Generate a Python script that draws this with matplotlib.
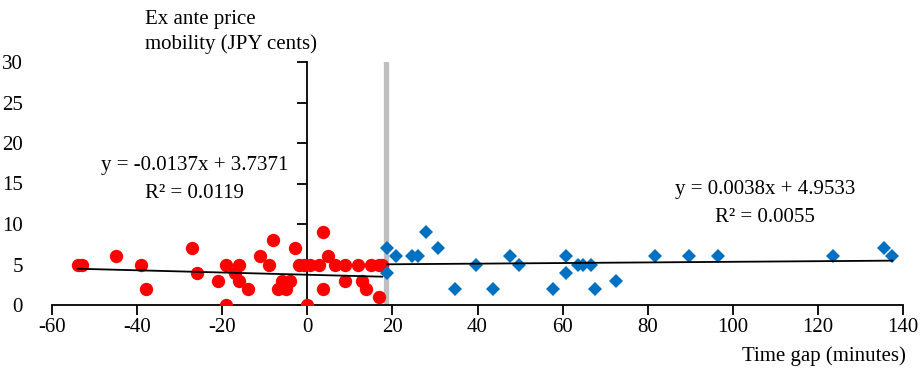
import numpy as np
import matplotlib
matplotlib.use("Agg")
import matplotlib.pyplot as plt

# Pontos antes do intervalo (vermelho)
x_antes = [-54, -53, -45, -39, -38, -27, -26, -21, -19, -19, -17, -16, -16, -14,
           -11, -9, -8, -7, -6, -5, -4, -3, -2, -0.7, 0, 0.6, 2.8, 3.8, 3.8,
           4.8, 6.6, 8.8, 8.8, 11.8, 12.8, 13.9, 14.9, 16.9, 16.9, 17.6]
y_antes = [5, 5, 6, 5, 2, 7, 4, 3, 5, 0, 4, 5, 3, 2,
           6, 5, 8, 2, 3, 2, 3, 7, 5, 5, 0, 5, 5, 9, 2,
           6, 5, 5, 3, 5, 3, 2, 5, 5, 1, 5]

# Pontos depois do intervalo (azul)
x_depois = [18.8, 18.8, 20.9, 24.7, 26, 27.8, 30.8, 34.8, 39.7, 43.7, 47.7, 49.8,
            57.7, 60.8, 60.8, 63.6, 64.8, 66.7, 67.7, 72.6, 81.7, 89.7, 96.6,
            123.6, 135.5, 137.5]
y_depois = [7, 4, 6, 6, 6, 9, 7, 2, 5, 2, 6, 5,
            2, 6, 4, 5, 5, 5, 2, 3, 6, 6, 6,
            6, 7, 6]

# Linhas de tendencia (coeficientes do Excel)
coef_antes = (-0.0137, 3.7371)
r2_antes = 0.0119
coef_depois = (0.0038, 4.9533)
r2_depois = 0.0055

corte = 18.5
x_ticks = list(range(-60, 141, 20))
y_ticks = list(range(0, 31, 5))

plt.rcParams['font.family'] = ['Liberation Serif', 'DejaVu Serif']
plt.rcParams['font.size'] = 15

fig = plt.figure(figsize=(9.23, 3.69), dpi=100)
ax = fig.add_axes([52 / 923, 64 / 369, 851 / 923, 243 / 369])
ax.set_xlim(-60, 140)
ax.set_ylim(0, 30)

# linha cinza do corte
ax.plot([corte, corte], [0, 30], color='#BFBFBF', lw=3.8, zorder=1)

ax.plot(x_antes, y_antes, 'o', color='#FF0000', ms=9.6, mew=0, zorder=3)
ax.plot(x_depois, y_depois, 'D', color='#0070C0', ms=7, mew=0, zorder=3)

xa = np.array([min(x_antes), max(x_antes)])
ax.plot(xa, coef_antes[0] * xa + coef_antes[1], color='black', lw=1.3, zorder=4)
xd = np.array([min(x_depois), max(x_depois)])
ax.plot(xd, coef_depois[0] * xd + coef_depois[1], color='black', lw=1.3, zorder=4)

# eixos
for s in ['top', 'right', 'left']:
    ax.spines[s].set_visible(False)
ax.spines['bottom'].set_linewidth(1.3)
ax.set_xticks(x_ticks)
ax.set_xticklabels([str(v) for v in x_ticks])
ax.tick_params(axis='x', length=7, width=1.3, pad=2)
ax.set_yticks(y_ticks)
ax.tick_params(axis='y', length=0, pad=21)

eixo_y = ax.secondary_yaxis(0.3)
eixo_y.spines['left'].set_linewidth(1.3)
eixo_y.set_yticks(y_ticks)
eixo_y.tick_params(length=7, width=1.3, labelleft=False)

ax.text(-26.5, 17.2, f"y = {coef_antes[0]}x + {coef_antes[1]}", ha='center', va='center')
ax.text(-26.5, 13.8, f"R² = {r2_antes}", ha='center', va='center')
ax.text(107.5, 14.2, f"y = {coef_depois[0]}x + {coef_depois[1]}", ha='center', va='center')
ax.text(107.5, 10.8, f"R² = {r2_depois}", ha='center', va='center')

fig.text(145 / 923, 1 - 10 / 369, "Ex ante price\nmobility (JPY cents)", ha='left', va='top',
         linespacing=1.35)
fig.text(906 / 923, 1 - 356 / 369, "Time gap (minutes)", ha='right', va='center')

fig.savefig("out.png", dpi=100)
